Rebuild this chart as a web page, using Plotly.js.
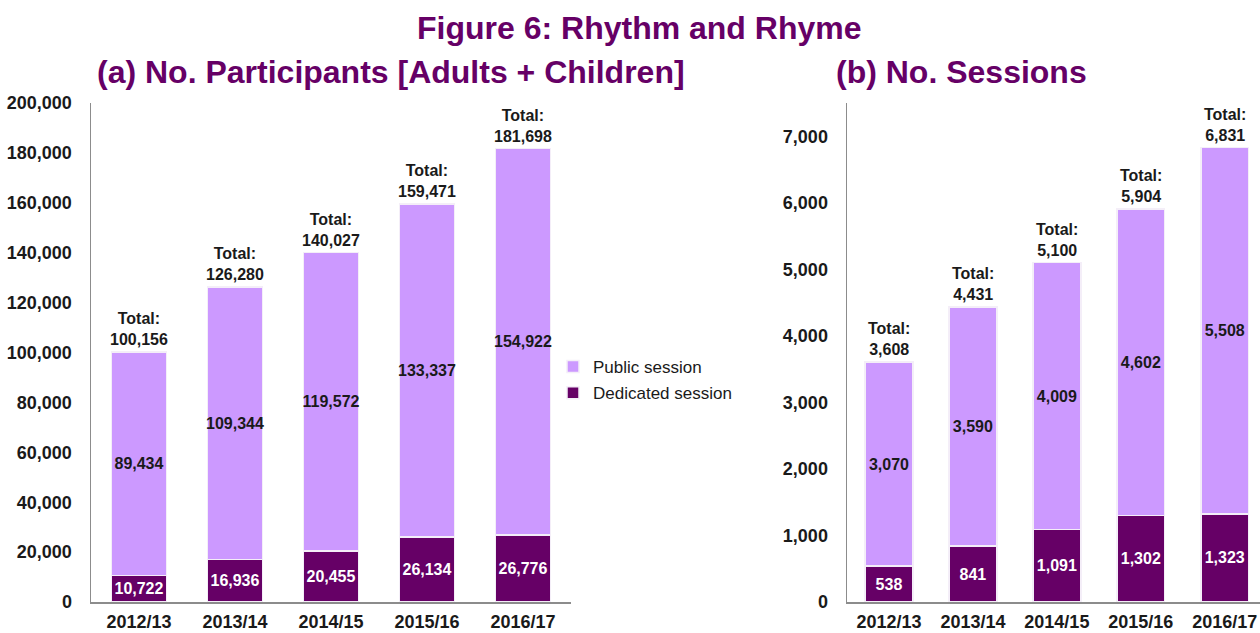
<!DOCTYPE html>
<html>
<head>
<meta charset="utf-8">
<script src="https://cdn.plot.ly/plotly-3.0.1.min.js"></script>
<style>html,body{margin:0;padding:0;overflow:hidden;background:#fff;}#chart{width:1260px;height:633px;}</style>
</head>
<body>
<div id="chart"></div>
<script>
const years = ["2012/13", "2013/14", "2014/15", "2015/16", "2016/17"];
const participantsPublic = [89434, 109344, 119572, 133337, 154922];
const participantsDedicated = [10722, 16936, 20455, 26134, 26776];
const sessionsPublic = [3070, 3590, 4009, 4602, 5508];
const sessionsDedicated = [538, 841, 1091, 1302, 1323];
const seriesNames = ["Public session", "Dedicated session"];
const mainTitle = "Figure 6: Rhythm and Rhyme";
const titleA = "(a) No. Participants [Adults + Children]";
const titleB = "(b) No. Sessions";

const PUB = "#CC99FF", DED = "#660066", TITLE = "#660066";
const FONT = "Liberation Sans, Arial, sans-serif";
const fmt = v => v.toLocaleString("en-US");

function barTrace(y, name, color, textColor, xa, ya, showlegend, rank) {
  return {
    type: "bar", x: years, y: y, name: name, xaxis: xa, yaxis: ya,
    marker: {color: color, line: {color: "#f4eef8", width: 1.5}},
    texttemplate: "%{y:,}", textposition: "inside", insidetextanchor: "middle",
    textangle: 0, constraintext: "none",
    insidetextfont: {family: FONT, size: 16, color: textColor, weight: "bold"},
    showlegend: showlegend, legendgroup: name, legendrank: rank, hoverinfo: "skip"
  };
}

const data = [
  barTrace(participantsDedicated, seriesNames[1], DED, "#ffffff", "x", "y", true, 2),
  barTrace(participantsPublic, seriesNames[0], PUB, "#1a1a1a", "x", "y", true, 1),
  barTrace(sessionsDedicated, seriesNames[1], DED, "#ffffff", "x2", "y2", false, 2),
  barTrace(sessionsPublic, seriesNames[0], PUB, "#1a1a1a", "x2", "y2", false, 1)
];

const annotations = [];
years.forEach((yr, i) => {
  const t1 = participantsPublic[i] + participantsDedicated[i];
  annotations.push({x: yr, y: t1, xref: "x", yref: "y", yanchor: "bottom", yshift: 2,
    text: "Total:<br>" + fmt(t1), showarrow: false,
    font: {family: FONT, size: 16, color: "#1a1a1a", weight: "bold"}});
  const t2 = sessionsPublic[i] + sessionsDedicated[i];
  annotations.push({x: yr, y: t2, xref: "x2", yref: "y2", yanchor: "bottom", yshift: 2,
    text: "Total:<br>" + fmt(t2), showarrow: false,
    font: {family: FONT, size: 16, color: "#1a1a1a", weight: "bold"}});
});
annotations.push({x: 639/1260, y: 1 - 28/633, xref: "paper", yref: "paper", xanchor: "center", yanchor: "middle",
  text: mainTitle, showarrow: false, font: {family: FONT, size: 32, color: TITLE, weight: "bold"}});
annotations.push({x: 391/1260, y: 1 - 72/633, xref: "paper", yref: "paper", xanchor: "center", yanchor: "middle",
  text: titleA, showarrow: false, font: {family: FONT, size: 32, color: TITLE, weight: "bold"}});
annotations.push({x: 961/1260, y: 1 - 72/633, xref: "paper", yref: "paper", xanchor: "center", yanchor: "middle",
  text: titleB, showarrow: false, font: {family: FONT, size: 32, color: TITLE, weight: "bold"}});

const tickFont = {family: FONT, size: 18, color: "#1a1a1a", weight: "bold"};
const yDom = [31/633, 530/633];
const axisX = {type: "category", showgrid: false, zeroline: false, showline: true, linecolor: "#8c8c8c", linewidth: 1.5,
  ticks: "", tickfont: tickFont, ticklabelstandoff: 3, fixedrange: true};
const axisY = {showgrid: false, zeroline: false, showline: true, linecolor: "#8c8c8c", linewidth: 1.5,
  ticks: "", tickfont: tickFont, tickformat: ",d", ticklabelstandoff: 14, fixedrange: true};

const layout = {
  width: 1260, height: 633, margin: {l: 0, r: 0, t: 0, b: 0},
  paper_bgcolor: "#ffffff", plot_bgcolor: "#ffffff",
  barmode: "stack", bargap: 0.43,
  font: {family: FONT},
  xaxis: Object.assign({}, axisX, {domain: [91/1260, 571/1260], anchor: "y", range: [-0.5, 4.5]}),
  yaxis: Object.assign({}, axisY, {domain: yDom, anchor: "x", range: [0, 200000], dtick: 20000}),
  xaxis2: Object.assign({}, axisX, {domain: [847/1260, 1], anchor: "y2", range: [-0.5, 4.42]}),
  yaxis2: Object.assign({}, axisY, {domain: yDom, anchor: "x2", range: [0, 7500], dtick: 1000}),
  showlegend: true,
  legend: {x: 553/1260, y: 1 - 349/633, xanchor: "left", yanchor: "top", traceorder: "grouped",
    tracegroupgap: 1, bgcolor: "rgba(0,0,0,0)",
    font: {family: FONT, size: 17, color: "#1a1a1a"}},
  annotations: annotations
};

Plotly.newPlot("chart", data, layout, {displayModeBar: false, staticPlot: true});
</script>
</body>
</html>
